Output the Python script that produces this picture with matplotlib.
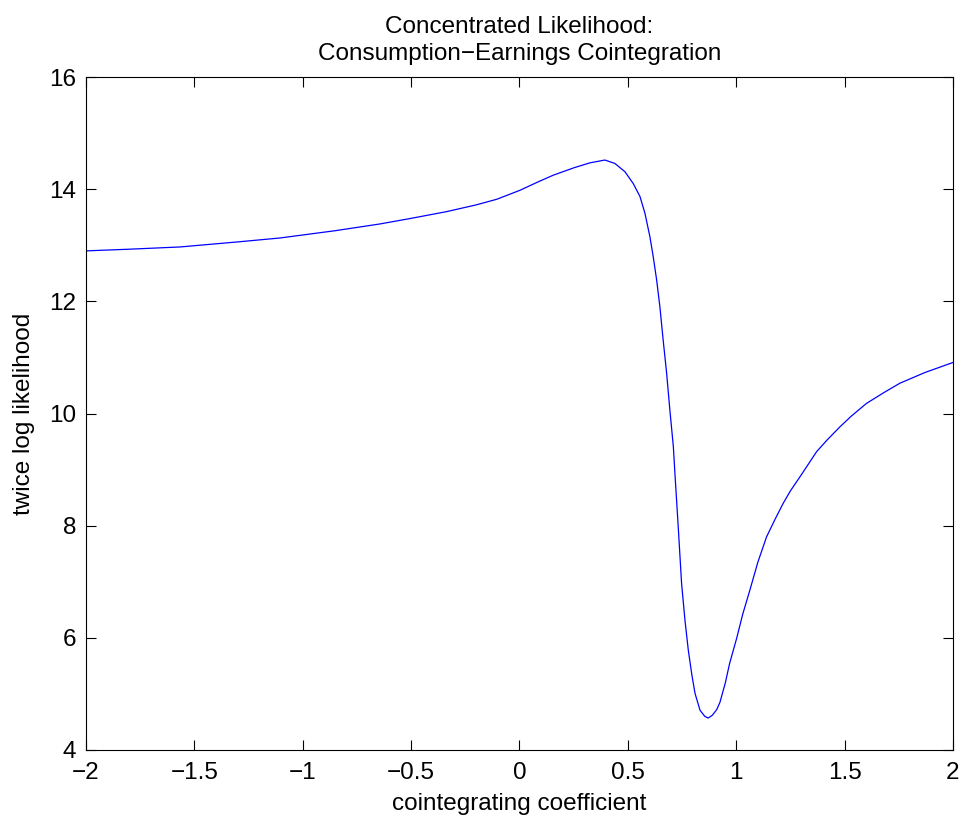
import matplotlib
matplotlib.use("Agg")
import matplotlib.pyplot as plt

# values
coef = [-2.0, -1.8, -1.566, -1.3, -1.105, -0.85, -0.644, -0.5, -0.336, -0.2,
        -0.105, 0.002, 0.08, 0.156, 0.250, 0.325,
        0.394, 0.440, 0.487, 0.525, 0.556, 0.579, 0.602, 0.617, 0.633, 0.648,
        0.663, 0.679, 0.694, 0.710, 0.717, 0.733, 0.748, 0.764, 0.779, 0.795,
        0.810, 0.833, 0.855, 0.871, 0.890, 0.910, 0.925, 0.950, 0.970, 1.002,
        1.03, 1.063, 1.10, 1.140, 1.18, 1.217, 1.25, 1.294, 1.33, 1.371, 1.42,
        1.478, 1.53, 1.601, 1.68, 1.755, 1.87, 2.0]
loglik = [12.90, 12.93, 12.97, 13.06, 13.13, 13.26, 13.38, 13.48, 13.60, 13.72,
          13.82, 13.98, 14.12, 14.25, 14.38, 14.47,
          14.52, 14.46, 14.31, 14.10, 13.87, 13.57, 13.15, 12.80, 12.38, 11.90,
          11.31, 10.72, 10.06, 9.41, 8.95, 7.95, 6.97, 6.30, 5.78, 5.35,
          5.01, 4.71, 4.60, 4.57, 4.62, 4.72, 4.85, 5.20, 5.55, 5.99,
          6.42, 6.85, 7.35, 7.80, 8.12, 8.40, 8.62, 8.87, 9.08, 9.32, 9.53,
          9.76, 9.95, 10.18, 10.37, 10.54, 10.73, 10.91]

x_ticks = [-2, -1.5, -1, -0.5, 0, 0.5, 1, 1.5, 2]
x_tick_labels = ["\u22122", "\u22121.5", "\u22121", "\u22120.5", "0", "0.5", "1", "1.5", "2"]
y_ticks = [4, 6, 8, 10, 12, 14, 16]

plt.rcParams['font.family'] = ['Liberation Sans', 'DejaVu Sans']

fig = plt.figure(figsize=(9.65, 8.23), dpi=100)
ax = fig.add_axes([0.0891, 0.0887, 0.8984, 0.8177])
ax.plot(coef, loglik, color=(0, 0, 1), linewidth=0.9)

ax.set_xlim(-2, 2)
ax.set_ylim(4, 16)
ax.set_xticks(x_ticks)
ax.set_xticklabels(x_tick_labels)
ax.set_yticks(y_ticks)
ax.tick_params(axis='x', pad=9)
ax.tick_params(axis='y', pad=7)
ax.tick_params(direction='in', length=7, width=0.8, labelsize=17.5,
               top=True, right=True)
for s in ax.spines.values():
    s.set_linewidth(0.8)

ax.set_title("Concentrated Likelihood:\nConsumption\u2212Earnings Cointegration",
             fontsize=17.5, pad=12, linespacing=1.3)
ax.set_xlabel("cointegrating coefficient", fontsize=17.5, labelpad=6)
ax.set_ylabel("twice log likelihood", fontsize=17.5, labelpad=10)

fig.savefig("out.png", dpi=100)
